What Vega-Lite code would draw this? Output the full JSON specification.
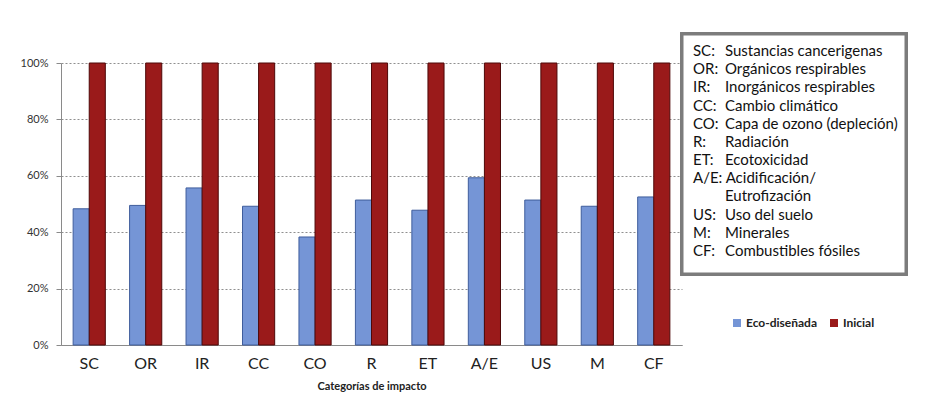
{
  "$schema": "https://vega.github.io/schema/vega-lite/v6.json",
  "background": "white",
  "padding": {"left": 20, "top": 32, "right": 5, "bottom": 5},
  "config": {
    "font": "Lato",
    "view": {"stroke": null}
  },
  "datasets": {
    "bars": [
      {"cat": "SC", "serie": "Eco-diseñada", "valor": 0.483},
      {"cat": "SC", "serie": "Inicial", "valor": 1.0},
      {"cat": "OR", "serie": "Eco-diseñada", "valor": 0.495},
      {"cat": "OR", "serie": "Inicial", "valor": 1.0},
      {"cat": "IR", "serie": "Eco-diseñada", "valor": 0.557},
      {"cat": "IR", "serie": "Inicial", "valor": 1.0},
      {"cat": "CC", "serie": "Eco-diseñada", "valor": 0.492},
      {"cat": "CC", "serie": "Inicial", "valor": 1.0},
      {"cat": "CO", "serie": "Eco-diseñada", "valor": 0.383},
      {"cat": "CO", "serie": "Inicial", "valor": 1.0},
      {"cat": "R", "serie": "Eco-diseñada", "valor": 0.514},
      {"cat": "R", "serie": "Inicial", "valor": 1.0},
      {"cat": "ET", "serie": "Eco-diseñada", "valor": 0.478},
      {"cat": "ET", "serie": "Inicial", "valor": 1.0},
      {"cat": "A/E", "serie": "Eco-diseñada", "valor": 0.593},
      {"cat": "A/E", "serie": "Inicial", "valor": 1.0},
      {"cat": "US", "serie": "Eco-diseñada", "valor": 0.514},
      {"cat": "US", "serie": "Inicial", "valor": 1.0},
      {"cat": "M", "serie": "Eco-diseñada", "valor": 0.492},
      {"cat": "M", "serie": "Inicial", "valor": 1.0},
      {"cat": "CF", "serie": "Eco-diseñada", "valor": 0.525},
      {"cat": "CF", "serie": "Inicial", "valor": 1.0}
    ],
    "notas": [
      {"linea": 0, "abrev": "SC:", "desc": "Sustancias cancerigenas"},
      {"linea": 1, "abrev": "OR:", "desc": "Orgánicos respirables"},
      {"linea": 2, "abrev": "IR:", "desc": "Inorgánicos respirables"},
      {"linea": 3, "abrev": "CC:", "desc": "Cambio climático"},
      {"linea": 4, "abrev": "CO:", "desc": "Capa de ozono (depleción)"},
      {"linea": 5, "abrev": "R:", "desc": "Radiación"},
      {"linea": 6, "abrev": "ET:", "desc": "Ecotoxicidad"},
      {"linea": 7, "abrev": "A/E: Acidificación/", "desc": ""},
      {"linea": 8, "abrev": "", "desc": "Eutrofización"},
      {"linea": 9, "abrev": "US:", "desc": "Uso del suelo"},
      {"linea": 10, "abrev": "M:", "desc": "Minerales"},
      {"linea": 11, "abrev": "CF:", "desc": "Combustibles fósiles"}
    ]
  },
  "hconcat": [
    {
      "width": 621,
      "height": 282,
      "data": {"name": "bars"},
      "mark": {"type": "bar", "strokeWidth": 1},
      "encoding": {
        "x": {
          "field": "cat",
          "type": "nominal",
          "sort": ["SC", "OR", "IR", "CC", "CO", "R", "ET", "A/E", "US", "M", "CF"],
          "scale": {"paddingInner": 0.43, "paddingOuter": 0.215},
          "axis": {
            "title": "Categorías de impacto",
            "titleFontSize": 11,
            "titleFontWeight": "bold",
            "titleColor": "#222",
            "titlePadding": 9,
            "labelAngle": 0,
            "labelFontSize": 16,
            "labelColor": "#222",
            "labelPadding": 10,
            "ticks": false,
            "domainColor": "#8a8a8a"
          }
        },
        "xOffset": {"field": "serie", "type": "nominal", "sort": ["Eco-diseñada", "Inicial"]},
        "y": {
          "field": "valor",
          "type": "quantitative",
          "scale": {"domain": [0, 1], "nice": false},
          "axis": {
            "title": null,
            "values": [0, 0.2, 0.4, 0.6, 0.8, 1.0],
            "format": ".0%",
            "labelFontSize": 11,
            "labelColor": "#333",
            "labelPadding": 8,
            "tickSize": 5,
            "tickColor": "#8a8a8a",
            "domainColor": "#8a8a8a",
            "gridColor": "#8f8f8f",
            "gridDash": [2, 2],
            "gridWidth": 1
          }
        },
        "color": {
          "field": "serie",
          "type": "nominal",
          "scale": {"domain": ["Eco-diseñada", "Inicial"], "range": ["#7595d6", "#9a1a1a"]},
          "legend": {
            "title": null,
            "orient": "none",
            "legendX": 670,
            "legendY": 254,
            "direction": "horizontal",
            "symbolType": "square",
            "symbolSize": 64,
            "symbolStrokeWidth": 0,
            "labelFontSize": 12,
            "labelFontWeight": "bold",
            "labelColor": "#222",
            "labelOffset": 3,
            "columnPadding": 11
          }
        },
        "stroke": {
          "field": "serie",
          "type": "nominal",
          "scale": {"domain": ["Eco-diseñada", "Inicial"], "range": ["#3f5d9c", "#4e0808"]},
          "legend": null
        }
      }
    },
    {
      "width": 224,
      "height": 282,
      "data": {"name": "notas"},
      "layer": [
        {
          "mark": {"type": "rect", "fill": "white", "stroke": "#7c7c7c", "strokeWidth": 3},
          "encoding": {
            "x": {"datum": 0, "type": "quantitative", "scale": {"domain": [0, 1], "nice": false}, "axis": null},
            "x2": {"datum": 1},
            "y": {"datum": -0.935, "type": "quantitative", "scale": {"domain": [0.66, 16.17], "nice": false, "zero": false, "reverse": true}, "axis": null},
            "y2": {"datum": 12.27}
          }
        },
        {
          "mark": {"type": "text", "align": "left", "baseline": "middle", "fontSize": 15, "color": "#111"},
          "encoding": {
            "x": {"datum": 0.049, "type": "quantitative"},
            "y": {"field": "linea", "type": "quantitative"},
            "text": {"field": "abrev"}
          }
        },
        {
          "mark": {"type": "text", "align": "left", "baseline": "middle", "fontSize": 15, "color": "#111"},
          "encoding": {
            "x": {"datum": 0.192, "type": "quantitative"},
            "y": {"field": "linea", "type": "quantitative"},
            "text": {"field": "desc"}
          }
        }
      ]
    }
  ],
  "spacing": 0,
  "bounds": "flush"
}
